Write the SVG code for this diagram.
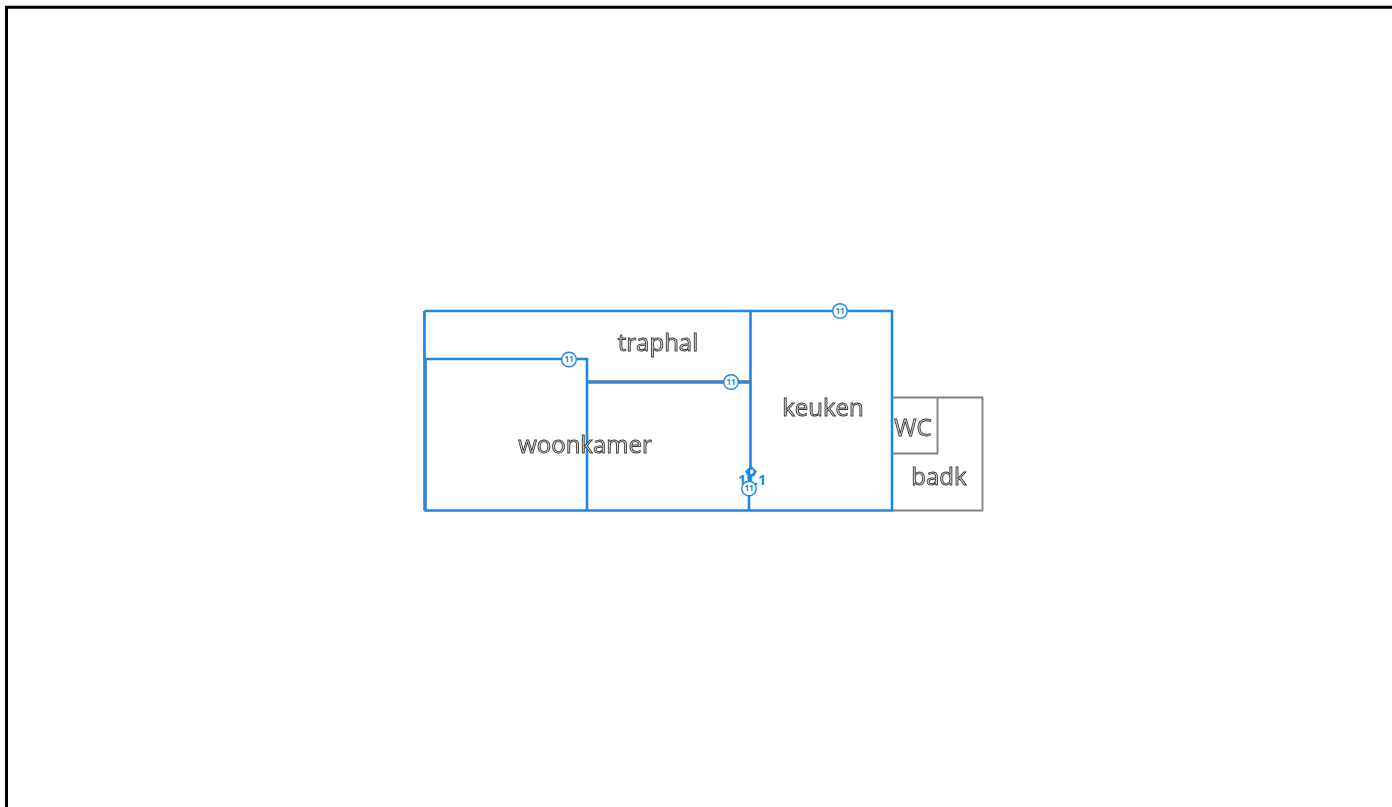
<svg xmlns="http://www.w3.org/2000/svg" width="1392" height="807" viewBox="0 0 1392 807">
<defs><filter id="soft" x="-5%" y="-10%" width="110%" height="120%"><feGaussianBlur stdDeviation=".35"/></filter></defs>
<style>
.wall{fill:none;stroke:#1e88e5;stroke-width:2.600;stroke-linejoin:miter}
.grey{fill:none;stroke:#808080;stroke-width:1.800}
.room{font-family:"Open Sans","DejaVu Sans",sans-serif;font-size:24px;text-anchor:middle;fill:#d4d4d4;stroke:#3c3c3c;stroke-width:.9;filter:url(#soft)}
.badge circle{fill:#fff;stroke:#1e88e5;stroke-width:1.400}
.badge text{font-family:"Open Sans","DejaVu Sans",sans-serif;font-size:8px;font-weight:700;fill:#1e88e5;text-anchor:middle}
</style>
<rect width="1392" height="807" fill="#fff"/>
<path d="M6.500 807V7.200H1392" fill="none" stroke="#000" stroke-width="3"/>
<g id="connectors">
<path class="grey" d="M424 311V510.500"/>
<path class="grey" d="M892 397.500H982.500V510.500H892"/>
<path class="grey" d="M892 453.500H937.500V397.500"/>
<path d="M586 381H750" fill="none" stroke="#666" stroke-width="1.500"/>
<path class="wall" d="M424.500 311H892V510.500H425.500V359H587V510.500"/>
<path class="wall" d="M424.500 311V359"/>
<path class="wall" d="M586 382.500H750"/>
<path class="wall" d="M750.500 311V470M749 470V510.500"/>
<path d="M751 465.500l6 6-3 5h-6l-3-5zM751 469a2.500 2.500 0 1 0 .01 0z" fill="#1e88e5" fill-rule="evenodd"/>
</g>
<g id="node-traphal"><text class="room" x="658" y="351">traphal</text></g>
<g id="node-woonkamer"><text class="room" x="585" y="453">woonkamer</text></g>
<g id="node-keuken"><text class="room" x="823" y="416">keuken</text></g>
<g id="node-wc"><text class="room" x="913" y="436">WC</text></g>
<g id="node-badk"><text class="room" x="939" y="485">badk</text></g>
<g id="badge-1" class="badge"><circle cx="569" cy="359.500" r="7.300"/><text x="569" y="362.300">11</text></g>
<g id="badge-2" class="badge"><circle cx="731" cy="382" r="7.300"/><text x="731" y="384.800">11</text></g>
<g id="badge-3" class="badge"><circle cx="840" cy="311" r="7.300"/><text x="840" y="313.800">11</text></g>
<g id="badge-4" class="badge"><text x="752" y="485" style="font-size:14px">11.1</text><circle cx="749" cy="488.500" r="7.300"/><text x="749" y="491.300">11</text></g>
</svg>
